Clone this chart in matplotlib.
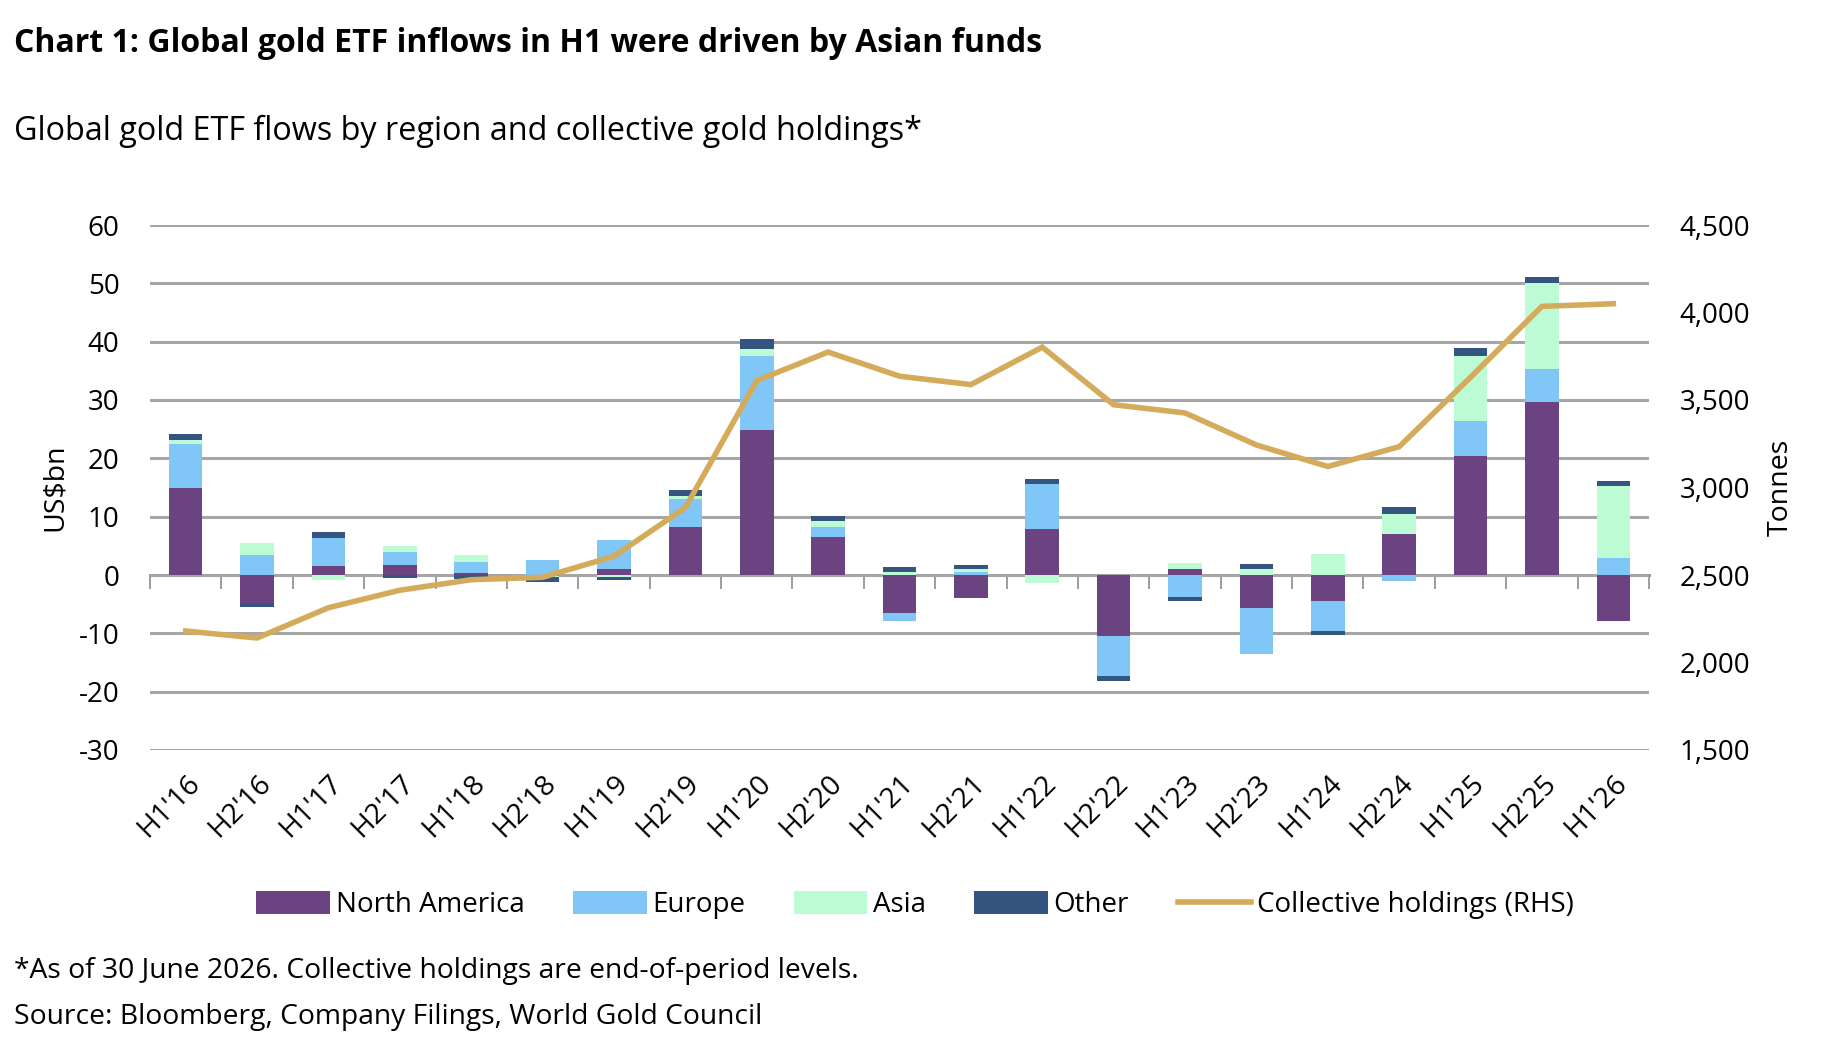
import matplotlib
matplotlib.use("Agg")
import matplotlib.pyplot as plt
import numpy as np
from matplotlib.patches import Patch
from matplotlib.lines import Line2D

plt.rcParams['font.family'] = ['Open Sans', 'DejaVu Sans']
plt.rcParams['axes.unicode_minus'] = False

periods = ["H1'16", "H2'16", "H1'17", "H2'17", "H1'18", "H2'18", "H1'19", "H2'19",
           "H1'20", "H2'20", "H1'21", "H2'21", "H1'22", "H2'22", "H1'23", "H2'23",
           "H1'24", "H2'24", "H1'25", "H2'25", "H1'26"]
north_america = [15.0, -4.8, 1.5, 1.8, 0.3, -0.2, 1.0, 8.3, 24.9, 6.5, -6.5, -4.0,
                 7.9, -10.4, 1.0, -5.6, -4.5, 7.0, 20.4, 29.7, -7.8]
europe = [7.5, 3.5, 4.9, 2.2, 2.0, 2.6, 5.0, 4.7, 12.6, 1.7, -1.3, 0.6,
          7.7, -6.9, -3.7, -7.9, -5.1, -1.1, 6.0, 5.7, 2.9]
asia = [0.7, 2.0, -0.8, 1.0, 1.2, -0.2, -0.3, 0.5, 1.2, 1.0, 0.5, 0.4,
        -1.3, 0.0, 1.0, 1.0, 3.6, 3.5, 11.2, 14.6, 12.4]
other = [1.0, -0.6, 0.9, -0.5, -0.6, -0.8, -0.6, 1.0, 1.7, 0.9, 0.8, 0.8,
         0.9, -0.9, -0.7, 0.9, -0.7, 1.2, 1.4, 1.1, 0.8]
holdings = [2180, 2140, 2313, 2413, 2473, 2487, 2607, 2885, 3611, 3774, 3636, 3588,
            3802, 3473, 3426, 3243, 3120, 3233, 3630, 4035, 4050]

series = [("North America", north_america, "#6a4380"),
          ("Europe", europe, "#80c6f7"),
          ("Asia", asia, "#bdfbd4"),
          ("Other", other, "#34557f")]
line_color = "#d4ab5a"

fig = plt.figure(figsize=(18.34, 10.56), dpi=100)
ax = fig.add_axes([150/1834, 1-750/1056, 1499/1834, 525/1056])

x = np.arange(len(periods))
pos_base = np.zeros(len(periods))
neg_base = np.zeros(len(periods))
for name, vals, col in series:
    v = np.array(vals)
    bottoms = np.where(v >= 0, pos_base, neg_base)
    ax.bar(x, v, width=0.47, bottom=bottoms, color=col, zorder=3, linewidth=0)
    pos_base = pos_base + np.where(v >= 0, v, 0)
    neg_base = neg_base + np.where(v < 0, v, 0)

ax.set_xlim(-0.5, len(periods) - 0.5)
ax.set_ylim(-30, 60)
ax.set_yticks(np.arange(-30, 61, 10))
ax.yaxis.grid(True, color="#a6a6a6", linewidth=2.2, zorder=0)
ax.set_axisbelow(True)
for s in ax.spines.values():
    s.set_visible(False)
ax.tick_params(axis='y', length=0, labelsize=20, pad=22)
ax.set_xticks(x)
ax.set_xticklabels(periods, rotation=45, ha='right', rotation_mode='anchor', fontsize=20.5)
ax.tick_params(axis='x', length=0, pad=14)
ax.set_ylabel("US$bn", fontsize=20.5, labelpad=7)

# zero axis line with boundary tick marks
sec = ax.secondary_xaxis(30/90)
sec.set_xticks(np.arange(-0.5, len(periods), 1.0))
sec.set_xticklabels([])
sec.spines['bottom'].set_color("#8c8c8c")
sec.spines['bottom'].set_linewidth(2.0)
sec.tick_params(axis='x', length=10, width=1.2, color="#8c8c8c", direction='out')

ax2 = ax.twinx()
ax2.plot(x, holdings, color=line_color, linewidth=4.0, zorder=5, solid_joinstyle='miter')
ax2.set_ylim(1500, 4500)
ax2.set_yticks(np.arange(1500, 4501, 500))
ax2.set_yticklabels([f"{int(t):,}" for t in np.arange(1500, 4501, 500)])
for s in ax2.spines.values():
    s.set_visible(False)
ax2.tick_params(axis='y', length=0, labelsize=20, pad=22)
ax2.set_ylabel("Tonnes", fontsize=20.5, labelpad=12)

handles = [Patch(facecolor=c, edgecolor='none') for _, _, c in series]
handles.append(Line2D([0], [0], color=line_color, linewidth=4.0))
labels = [n for n, _, _ in series] + ["Collective holdings (RHS)"]
fig.legend(handles, labels, loc='center', bbox_to_anchor=(915/1834, 1-905/1056),
           ncol=5, frameon=False, fontsize=20, handlelength=2.65, handleheight=0.9,
           handletextpad=0.2, columnspacing=1.75)

fig.text(14/1834, 1-43/1056, "Chart 1: Global gold ETF inflows in H1 were driven by Asian funds",
         fontsize=23, fontweight='bold', va='center', ha='left')
fig.text(14/1834, 1-131/1056, "Global gold ETF flows by region and collective gold holdings*",
         fontsize=23.3, va='center', ha='left')
fig.text(14/1834, 1-971/1056, "*As of 30 June 2026. Collective holdings are end-of-period levels.",
         fontsize=20.3, va='center', ha='left')
fig.text(14/1834, 1-1017/1056, "Source: Bloomberg, Company Filings, World Gold Council",
         fontsize=20.3, va='center', ha='left')

fig.savefig("out.png", dpi=100)
